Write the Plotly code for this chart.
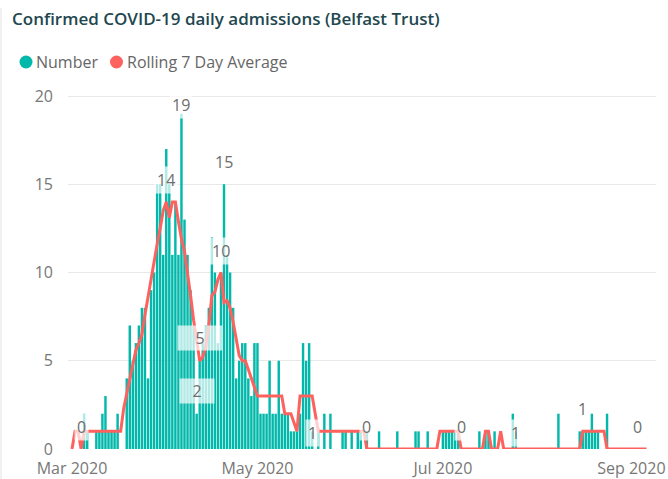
import pandas as pd
import plotly.graph_objects as go

# Daily confirmed admissions, one value per day from 1 March 2020
number_mar = [0, 0, 0, 0, 2, 1, 0, 0, 1, 1, 2, 3, 1, 1, 1, 2, 0, 0, 4, 7,
              5, 6, 7, 8, 8, 4, 9, 10, 15, 15, 11]
number_apr = [17, 15, 11, 14, 11, 19, 13, 11, 9, 7, 2, 5, 6, 7, 8, 12, 10, 6, 10, 15,
              11, 10, 8, 4, 5, 6, 6, 4, 3, 6]
number_may = [6, 2, 2, 2, 5, 2, 2, 5, 2, 2, 2, 1, 1, 1, 2, 6, 5, 6, 1, 0,
              1, 0, 2, 0, 2, 0, 0, 0, 1, 1, 0]
number_jun = [1, 0, 1, 1, 0, 1, 0, 0, 0, 1, 0, 0, 0, 0, 0, 1, 0, 0, 0, 0,
              0, 1, 1, 0, 0, 1, 0, 0, 0, 0]
number_jul = [1, 1, 1, 1, 1, 1, 0, 0, 0, 0, 0, 0, 1, 0, 1, 1, 0, 1, 0, 0,
              0, 0, 0, 2, 1, 0, 0, 0, 0, 0, 0]
number_aug = [0, 0, 0, 0, 0, 0, 0, 2, 0, 0, 0, 0, 0, 0, 1, 1, 1, 1, 2, 1,
              1, 0, 0, 2, 0, 0, 0, 0, 0, 0, 0]
number_sep = [0, 0, 0, 0, 0, 0]

# Rolling 7 day average as published alongside the daily counts
rolling_mar = [0, 1, 1, 0, 1, 1, 1, 1, 1, 1, 1, 1, 1, 1, 1, 1, 1, 2.3, 3.1, 3.9,
               4.7, 5.6, 6, 6.5, 7.6, 8.6, 9.7, 10.8, 11.6, 12.5, 13.5]
rolling_apr = [14, 13.1, 14, 14, 12.9, 11.9, 11.2, 10, 8.7, 7.3, 6, 5, 5.2, 5.8, 7,
               8.7, 8.9, 9.6, 10, 8.3, 8.4, 8, 7.2, 6.2, 5.3, 5, 5, 4.5, 4, 3.4]
rolling_may = [3, 3, 3, 3, 3, 3, 3, 3, 3, 2, 2, 2, 1.5, 1, 3, 3, 3, 3, 3, 2,
               1, 1, 1, 1, 1, 1, 1, 1, 1, 1, 1]
rolling_jun = [1, 1, 1, 1, 1] + [0] * 24 + [1]
rolling_jul = [1] * 6 + [0] * 8 + [1, 1] + [0] * 3 + [1] + [0] * 11
rolling_aug = [0] * 15 + [1] * 8 + [0] * 8
rolling_sep = [0] * 6

start_date = "2020-03-01"
x_range = ["2020-02-28 16:19", "2020-09-09 02:24"]
tick_dates = ["2020-03-01", "2020-05-01", "2020-07-01", "2020-09-01"]
tick_text = ["Mar 2020", "May 2020", "Jul 2020", "Sep 2020"]
y_ticks = [0, 5, 10, 15, 20]

# Data labels: (series, day index, vertical offset in px)
data_labels = [
    ("rolling", 3, 22), ("rolling", 31, 22), ("number", 36, 9),
    ("number", 50, 22), ("rolling", 49, 22), ("rolling", 42, 23),
    ("number", 41, 23), ("number", 79, -2), ("rolling", 97, 22),
    ("rolling", 128, 22), ("number", 146, -2), ("rolling", 168, 22),
    ("rolling", 186, 22),
]

number = number_mar + number_apr + number_may + number_jun + number_jul + number_aug + number_sep
rolling = rolling_mar + rolling_apr + rolling_may + rolling_jun + rolling_jul + rolling_aug + rolling_sep
dates = pd.date_range(start_date, periods=len(number), freq="D")

TEAL = "#01B8AA"
RED = "#FD625E"
GREY = "#777777"
FONT = "Open Sans"

fig = go.Figure()
fig.add_trace(go.Bar(x=dates, y=number, name="Number", marker=dict(color=TEAL, line=dict(width=0)),
                     showlegend=False))
fig.add_trace(go.Scatter(x=dates, y=rolling, name="Rolling 7 Day Average", mode="lines",
                         line=dict(color=RED, width=3), showlegend=False))

series = {"number": number, "rolling": rolling}
big_box = {42: (40, 20), 41: (30, 20)}
for name, idx, shift in data_labels:
    val = series[name][idx]
    ann = dict(x=dates[idx], y=val, xref="x", yref="y", text=str(int(round(val))),
               showarrow=False, yanchor="middle", xanchor="center", yshift=shift,
               font=dict(family=FONT, size=16, color="#6E6E6E"),
               bgcolor="rgba(255,255,255,0.7)", borderpad=2)
    if idx in big_box:
        ann["width"], ann["height"] = big_box[idx]
    fig.add_annotation(**ann)

# Legend drawn as circle markers with labels
legend_items = [("Number", TEAL, 26, 34), ("Rolling 7 Day Average", RED, 116.5, 125)]
W, H = 668, 479
L, R, T, B = 68, 12, 90, 30
pw, ph = W - L - R, H - T - B
for label, color, cx, tx in legend_items:
    fig.add_shape(type="circle", xref="paper", yref="paper", xsizemode="pixel", ysizemode="pixel",
                  xanchor=(cx - L) / pw, yanchor=(H - B - 62) / ph,
                  x0=-6.5, x1=6.5, y0=-6.5, y1=6.5, fillcolor=color, line=dict(width=0))
    fig.add_annotation(x=(tx - L) / pw, y=(H - B - 62) / ph, xref="paper", yref="paper",
                       text=label, showarrow=False, xanchor="left", yanchor="middle",
                       font=dict(family=FONT, size=16, color="#666666"))

# thin frame line at the left edge of the visual
fig.add_shape(type="line", xref="paper", yref="paper",
              x0=(1 - L) / pw, x1=(1 - L) / pw, y0=(H - B - 8) / ph, y1=-B / ph,
              line=dict(color="#E3E3E3", width=1))

fig.update_layout(
    width=W, height=H,
    margin=dict(l=L, r=R, t=T, b=B, autoexpand=False),
    paper_bgcolor="white", plot_bgcolor="white",
    bargap=0.2,
    title=dict(text="Confirmed COVID-19 daily admissions (Belfast Trust)",
               x=12 / W, xanchor="left", xref="container",
               y=1 - 19 / H, yanchor="middle", yref="container",
               font=dict(family=FONT, size=17, color="#22474F", weight=600)),
    xaxis=dict(type="date", range=x_range, tickvals=tick_dates, ticktext=tick_text,
               showgrid=False, zeroline=False, showline=False, ticks="", ticklen=0,
               ticklabelstandoff=8, automargin=False,
               tickfont=dict(family=FONT, size=16, color=GREY)),
    yaxis=dict(range=[0, 20.34], tickvals=y_ticks, showgrid=True, gridcolor="#E8E8E8",
               gridwidth=1, zeroline=False, showline=False, ticks="", ticklen=0,
               ticklabelstandoff=14, automargin=False,
               tickfont=dict(family=FONT, size=16, color=GREY)),
    showlegend=False,
)

fig.write_html("out.html")
